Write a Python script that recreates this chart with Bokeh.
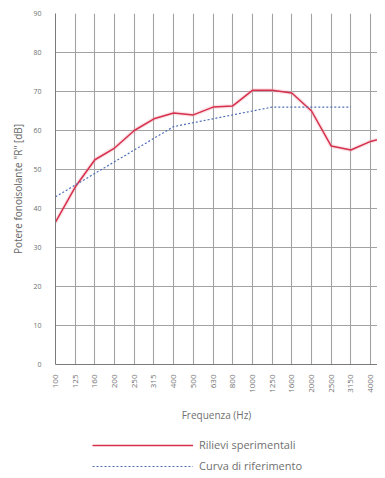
import math
from bokeh.plotting import figure
from bokeh.layouts import column
from bokeh.models import Range1d, FixedTicker, Legend, LegendItem
from bokeh.embed import file_html
from bokeh.resources import INLINE

freqs = ["100", "125", "160", "200", "250", "315", "400", "500", "630", "800",
         "1000", "1250", "1600", "2000", "2500", "3150", "4000", "5000"]
rilievi = [36.5, 45.5, 52.5, 55.5, 60.0, 63.0, 64.5, 64.0, 66.0, 66.3,
           70.3, 70.3, 69.6, 65.0, 56.0, 55.0, 57.2, 58.5]
riferimento = [43, 46, 49, 52, 55, 58, 61, 62, 63, 64, 65, 66, 66, 66, 66, 66]
y_ticks = [0, 10, 20, 30, 40, 50, 60, 70, 80, 90]
series_names = ["Rilievi sperimentali", "Curva di riferimento"]

xs_r = list(range(len(rilievi)))
xs_c = list(range(len(riferimento)))

FONT = "Open Sans"
RED = "#d6304c"
BLUE = "#4f6fb8"

p = figure(frame_width=322, frame_height=351, output_backend="svg",
           toolbar_location=None, x_range=Range1d(0, 16.35), y_range=Range1d(0, 90),
           min_border_left=55, min_border_right=0, min_border_top=13, min_border_bottom=0)
p.background_fill_color = "white"
p.border_fill_color = "white"
p.outline_line_color = None

p.xgrid.grid_line_color = "#a2a2a2"
p.ygrid.grid_line_color = "#a2a2a2"
p.xgrid.grid_line_width = 1.1
p.ygrid.grid_line_width = 1.1

p.xaxis.ticker = FixedTicker(ticks=xs_r)
p.xaxis.major_label_overrides = {i: f for i, f in enumerate(freqs)}
p.xaxis.major_label_orientation = math.pi / 2
p.xaxis.major_label_text_font_size = "8px"
p.xaxis.major_label_text_color = "#707070"
p.xaxis.major_label_text_font = FONT
p.xaxis.major_label_standoff = 4
p.xaxis.axis_label = "Frequenza (Hz)"
p.xaxis.axis_label_text_font_size = "10px"
p.xaxis.axis_label_text_font_style = "normal"
p.xaxis.axis_label_text_color = "#707070"
p.xaxis.axis_label_text_font = FONT
p.xaxis.axis_label_standoff = 12

p.yaxis.ticker = FixedTicker(ticks=y_ticks)
p.yaxis.major_label_text_font_size = "7px"
p.yaxis.major_label_text_color = "#707070"
p.yaxis.major_label_text_font = FONT
p.yaxis.major_label_standoff = 8
p.yaxis.axis_label = "Potere fonoisolante \"R\" [dB]"
p.yaxis.axis_label_text_font_size = "10px"
p.yaxis.axis_label_text_font_style = "normal"
p.yaxis.axis_label_text_color = "#666666"
p.yaxis.axis_label_text_font = FONT
p.yaxis.axis_label_standoff = 5

for ax in (p.xaxis, p.yaxis):
    ax.axis_line_color = "#7a7a7a"
    ax.major_tick_line_color = None
    ax.minor_tick_line_color = None

# soft halo under the red line
p.line(xs_r, rilievi, line_color="#f2a0ae", line_width=4, line_alpha=0.3)
p.line(xs_r, rilievi, line_color=RED, line_width=1.5)
p.line(xs_c, riferimento, line_color=BLUE, line_width=1.2, line_dash="2 2")

# legend figure below the chart (its lines lie outside its visible range)
p2 = figure(frame_width=377, frame_height=52, output_backend="svg",
            toolbar_location=None, x_range=Range1d(0, 1), y_range=Range1d(0, 1),
            min_border=0, x_axis_location=None, y_axis_location=None)
p2.background_fill_color = "white"
p2.border_fill_color = "white"
p2.outline_line_color = None
p2.grid.visible = False
lr = p2.line(xs_r, rilievi, line_color=RED, line_width=1.5)
lb = p2.line(xs_c, riferimento, line_color=BLUE, line_width=1.2, line_dash="2 2")

legend = Legend(items=[LegendItem(label=series_names[0], renderers=[lr]),
                       LegendItem(label=series_names[1], renderers=[lb])],
                location=(92, 3), orientation="vertical")
legend.glyph_width = 101
legend.glyph_height = 14
legend.label_text_font_size = "11px"
legend.label_text_color = "#707070"
legend.label_text_font = FONT
legend.label_standoff = 6
legend.spacing = 6
legend.padding = 0
legend.margin = 0
legend.border_line_color = None
legend.background_fill_alpha = 0
p2.add_layout(legend)

layout = column(p, p2, spacing=0)
open("out.html", "w").write(file_html(layout, INLINE))
